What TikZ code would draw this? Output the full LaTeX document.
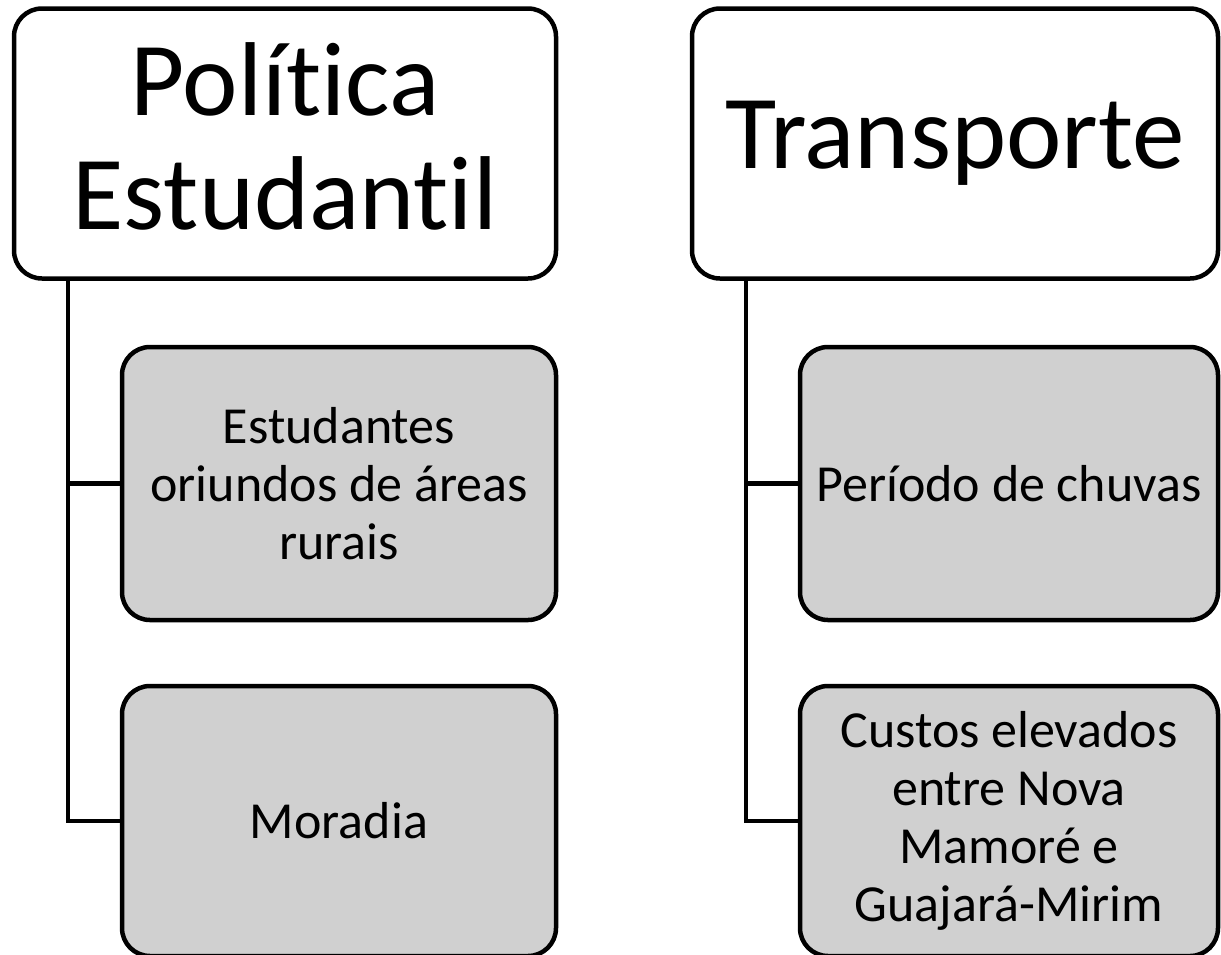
\documentclass[tikz,border=0pt]{standalone}
\usepackage{fontspec}
\setmainfont{Carlito}[Ligatures=NoCommon]
\usetikzlibrary{positioning}

\definecolor{boxgray}{HTML}{D0D0D0}

\begin{document}
\begin{tikzpicture}[x=1pt,y=-1pt,line width=4.5pt,
  topbox/.style={draw,rectangle,rounded corners=28pt,fill=white,align=center,
    inner sep=0pt,font=\fontsize{105}{114}\selectfont},
  subbox/.style={draw,rectangle,rounded corners=28pt,fill=boxgray,align=center,
    inner sep=0pt,font=\fontsize{52}{58}\selectfont}]
\useasboundingbox (0,0) rectangle (1221,954);
\begin{scope}
\clip (0,0) rectangle (1221,954);
% top level
\node[topbox,minimum width=542pt,minimum height=270pt,text depth=14pt] (pol) at (285,143.5) {Política\\Estudantil};
\node[topbox,minimum width=526pt,minimum height=270pt] (trans) at (955,143.5) {Transporte};
% children
\node[subbox,minimum width=434pt,minimum height=273pt] (est) at (339,483.5) {Estudantes\\oriundos de áreas\\rurais};
\node[subbox,minimum width=434pt,minimum height=270pt] (mor) at (339,821) {Moradia};
\node[subbox,minimum width=418pt,minimum height=273pt] (chuva) at (1009,483.5) {Período de chuvas};
\node[subbox,minimum width=418pt,minimum height=270pt] (custo) at (1009,821) {Custos elevados\\entre Nova\\Mamoré e\\Guajará-Mirim};
% connectors
\coordinate (tl) at (68,279);
\coordinate (tr) at (746,279);
\draw (tl) |- (mor.west);
\draw (tl |- est.west) -- (est.west);
\draw (tr) |- (custo.west);
\draw (tr |- chuva.west) -- (chuva.west);
\end{scope}
\end{tikzpicture}
\end{document}
